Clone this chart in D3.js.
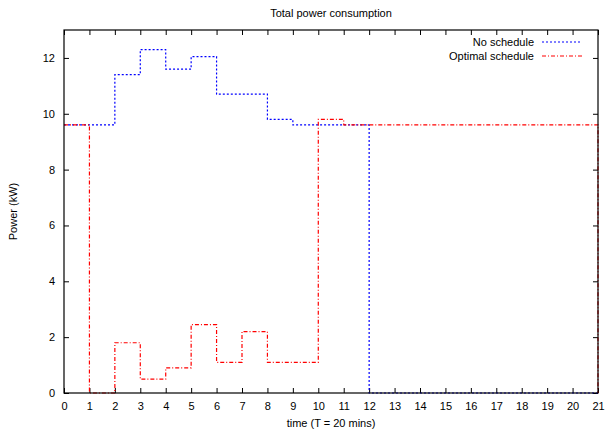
<!DOCTYPE html>
<html lang="en">
<head>
<meta charset="UTF-8">
<title>Total power consumption</title>
<script src="https://cdn.jsdelivr.net/npm/d3@7"></script>
<style>
  body { margin: 0; background: #fff; }
  text { font-family: "Liberation Sans", Arial, sans-serif; font-size: 11px; fill: #000; }
</style>
</head>
<body>
<div id="chart"></div>
<script>
// time slots 0..21 (T = 20 mins)
var slots = d3.range(0, 22);
var noSchedule = [9.6, 9.6, 11.4, 12.3, 11.6, 12.05, 10.7, 10.7, 9.8, 9.6, 9.6, 9.6,
                  0, 0, 0, 0, 0, 0, 0, 0, 0, 0];
var optimalSchedule = [9.6, 0, 1.8, 0.5, 0.9, 2.45, 1.1, 2.2, 1.1, 1.1, 9.8, 9.6,
                       9.6, 9.6, 9.6, 9.6, 9.6, 9.6, 9.6, 9.6, 9.6, 0];
var xTicks = d3.range(0, 22);
var yTicks = [0, 2, 4, 6, 8, 10, 12];

var width = 606, height = 431;
var margin = {top: 30, right: 8, bottom: 38, left: 64};
var w = width - margin.left - margin.right;
var h = height - margin.top - margin.bottom;

var svg = d3.select("#chart").append("svg")
    .attr("width", width)
    .attr("height", height);

var x = d3.scaleLinear().domain([0, 21]).range([0, w]);
var y = d3.scaleLinear().domain([0, 13]).range([h, 0]);

var g = svg.append("g")
    .attr("transform", "translate(" + margin.left + "," + margin.top + ")");

// ticks on all four sides, pointing inward
var tk = 5;
g.append("g").attr("transform", "translate(0," + h + ")")
    .call(d3.axisBottom(x).tickValues(xTicks).tickSize(-tk).tickPadding(9).tickFormat(d3.format("d")));
g.append("g")
    .call(d3.axisTop(x).tickValues(xTicks).tickSize(-tk).tickFormat(""));
g.append("g")
    .call(d3.axisLeft(y).tickValues(yTicks).tickSize(-tk).tickPadding(9).tickFormat(d3.format("d")));
g.append("g").attr("transform", "translate(" + w + ",0)")
    .call(d3.axisRight(y).tickValues(yTicks).tickSize(-tk).tickFormat(""));
g.selectAll(".domain").remove();
g.selectAll(".tick line").attr("stroke", "#000");
g.selectAll(".tick text").style("font-size", "11px").attr("fill", "#000");

var series = [
    {name: "No schedule", values: noSchedule, color: "#0000ff", dash: "2,2"},
    {name: "Optimal schedule", values: optimalSchedule, color: "#ff0000", dash: "4,2,1,2"}
];

var line = d3.line()
    .x(function (d) { return x(d[0]); })
    .y(function (d) { return y(d[1]); })
    .curve(d3.curveStepAfter);

series.forEach(function (s) {
    g.append("path")
        .datum(slots.map(function (t, i) { return [t, s.values[i]]; }))
        .attr("fill", "none")
        .attr("stroke", s.color)
        .attr("stroke-width", 1.2)
        .attr("stroke-dasharray", s.dash)
        .attr("d", line);
});

// frame
g.append("rect")
    .attr("width", w).attr("height", h)
    .attr("fill", "none").attr("stroke", "#000").attr("stroke-width", 1.2);

// legend
var leg = g.selectAll(".leg").data(series).enter().append("g")
    .attr("transform", function (d, i) { return "translate(0," + (12 + i * 14) + ")"; });
leg.append("text")
    .attr("x", w - 64).attr("dy", "0.35em")
    .attr("text-anchor", "end")
    .text(function (d) { return d.name; });
leg.append("line")
    .attr("x1", w - 56).attr("x2", w - 16)
    .attr("stroke", function (d) { return d.color; })
    .attr("stroke-width", 1.2)
    .attr("stroke-dasharray", function (d) { return d.dash; });

// titles
svg.append("text")
    .attr("x", margin.left + w / 2).attr("y", 17)
    .attr("text-anchor", "middle")
    .text("Total power consumption");
svg.append("text")
    .attr("x", margin.left + w / 2).attr("y", 427)
    .attr("text-anchor", "middle")
    .text("time (T = 20 mins)");
svg.append("text")
    .attr("transform", "translate(17," + (margin.top + h / 2) + ") rotate(-90)")
    .attr("text-anchor", "middle")
    .text("Power (kW)");
</script>
</body>
</html>
